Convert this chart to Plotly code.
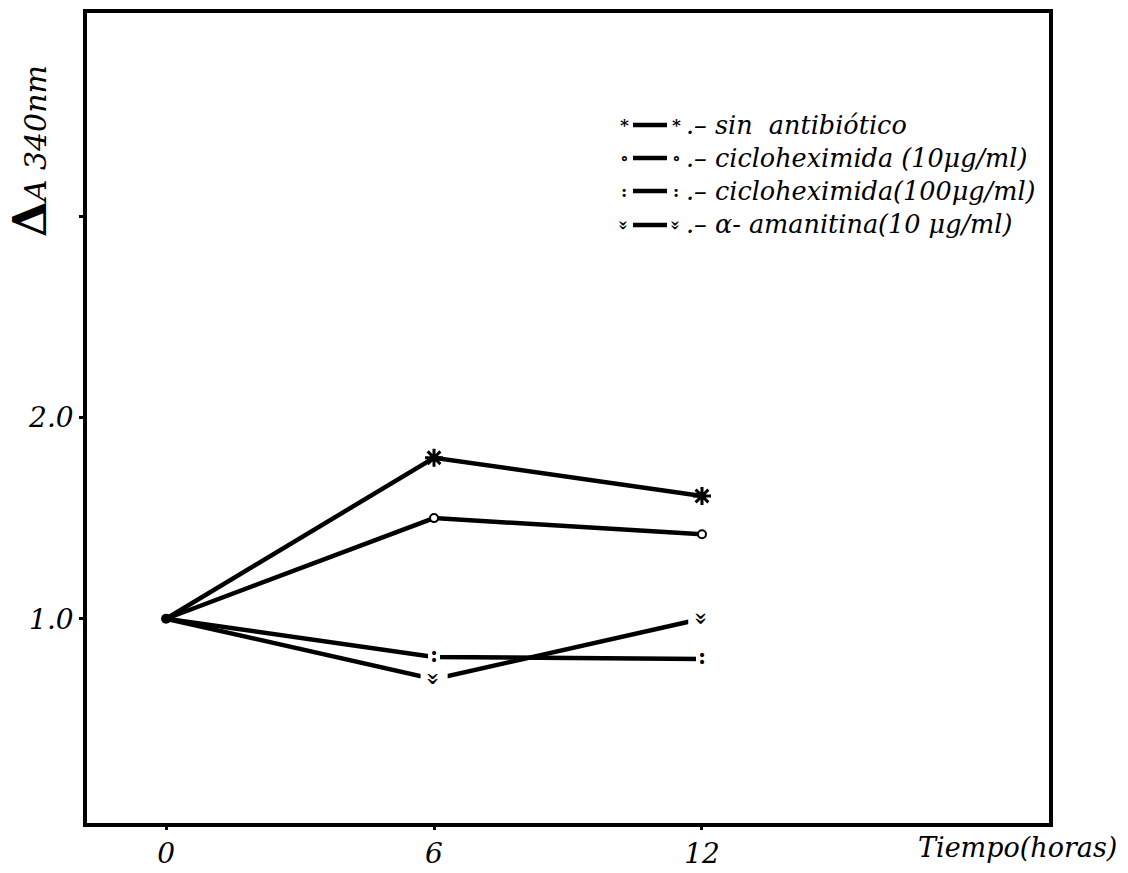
import plotly.graph_objects as go

# Tiempo (horas) y variación de absorbancia a 340 nm
horas = [0, 6, 12]
sin_antibiotico = [1.00, 1.80, 1.61]
cicloheximida_10 = [1.00, 1.50, 1.42]
cicloheximida_100 = [1.00, 0.81, 0.80]
amanitina_10 = [1.00, 0.70, 1.00]

x_ticks = [0, 6, 12]
x_ticktext = ["0", "6", "12"]
y_ticks = [1, 2, 3]
y_ticktext = ["1.0", "2.0", ""]

leyenda = [
    "sin  antibiótico",
    "cicloheximida (10μg/ml)",
    "cicloheximida(100μg/ml)",
    "α- amanitina(10 μg/ml)",
]

SERIF = "DejaVu Serif"
INK = "black"
LW = 4.5

fig = go.Figure()

series = [sin_antibiotico, cicloheximida_10, cicloheximida_100, amanitina_10]
for ys in series:
    fig.add_trace(go.Scatter(x=horas, y=ys, mode="lines",
                             line=dict(color=INK, width=LW),
                             showlegend=False, hoverinfo="skip"))

# common starting point
fig.add_trace(go.Scatter(x=horas[:1], y=[sin_antibiotico[0]], mode="markers",
                         marker=dict(color=INK, size=10), showlegend=False))

# point glyphs at 6 and 12 h
fig.add_trace(go.Scatter(x=horas[1:], y=sin_antibiotico[1:], mode="markers",
                         marker=dict(symbol="asterisk-open", size=15, color=INK,
                                     line=dict(color=INK, width=3)),
                         showlegend=False))
fig.add_trace(go.Scatter(x=horas[1:], y=cicloheximida_10[1:], mode="markers",
                         marker=dict(symbol="circle", size=8, color="white",
                                     line=dict(color=INK, width=2)),
                         showlegend=False))
fig.add_trace(go.Scatter(x=horas[1:], y=cicloheximida_100[1:], mode="markers",
                         marker=dict(symbol="square", size=12, color="white",
                                     line=dict(width=0)),
                         showlegend=False))
fig.add_trace(go.Scatter(x=horas[1:], y=cicloheximida_100[1:], mode="text",
                         text=["<b>:</b>", "<b>:</b>"], textposition="middle center",
                         textfont=dict(family=SERIF, size=22, color=INK),
                         showlegend=False))

annotations = []
for xv, yv in zip(horas[1:], amanitina_10[1:]):
    annotations.append(dict(x=xv, y=yv, xref="x", yref="y", text="<b>»</b>",
                            textangle=90, showarrow=False, bgcolor="white",
                            borderpad=0,
                            font=dict(family=SERIF, size=22, color=INK)))

# axis titles
annotations.append(dict(x=-0.06, y=0.83, xref="paper", yref="paper", showarrow=False,
                        textangle=-90, xanchor="center", yanchor="middle",
                        text="<b><span style='font-size:46px'>Δ</span></b><i>A 340nm</i>",
                        font=dict(family=SERIF, size=30, color=INK)))
annotations.append(dict(x=1.073, y=-0.03, xref="paper", yref="paper", showarrow=False,
                        xanchor="right", yanchor="middle",
                        text="<i>Tiempo(horas)</i>",
                        font=dict(family=SERIF, size=27, color=INK)))

# legend drawn in the upper right
def px_x(p):
    return (p - 87) / 962

def px_y(p):
    return (823 - p) / 810

row_y = [125, 158, 191, 225]
glyphs = ["<b>*</b>", "<b>∘</b>", "<b>:</b>", "<b>»</b>"]
shapes = []
for ry, g in zip(row_y, glyphs):
    shapes.append(dict(type="line", xref="paper", yref="paper",
                       x0=px_x(633), x1=px_x(667), y0=px_y(ry), y1=px_y(ry),
                       line=dict(color=INK, width=LW)))
    for gx in (624, 676):
        angle = 90 if "»" in g else 0
        annotations.append(dict(x=px_x(gx), y=px_y(ry), xref="paper", yref="paper",
                                text=g, textangle=angle, showarrow=False,
                                xanchor="center", yanchor="middle",
                                font=dict(family=SERIF, size=17, color=INK)))
annotations.append(dict(x=px_x(684), y=px_y((row_y[0] + row_y[-1]) / 2),
                        xref="paper", yref="paper",
                        text="<br>".join("<i>.– " + t + "</i>" for t in leyenda),
                        showarrow=False, align="left",
                        xanchor="left", yanchor="middle",
                        font=dict(family=SERIF, size=25.5, color=INK)))

for a in annotations:
    fig.add_annotation(**a)

fig.update_layout(
    width=1128, height=873,
    margin=dict(l=87, r=79, t=13, b=50),
    paper_bgcolor="white", plot_bgcolor="white",
    shapes=shapes,
    showlegend=False,
    font=dict(family=SERIF, color=INK),
)
fig.update_xaxes(range=[-1.77, 19.77], tickvals=x_ticks, ticktext=x_ticktext,
                 ticks="outside", ticklen=3, tickwidth=3, tickcolor=INK,
                 tickfont=dict(family=SERIF, size=28, color=INK, style="italic"),
                 automargin=False,
                 showgrid=False, zeroline=False, showline=True, mirror=True,
                 linecolor=INK, linewidth=3.5)
fig.update_yaxes(range=[-0.015, 4.01], tickvals=y_ticks, ticktext=y_ticktext,
                 ticks="outside", ticklen=4, tickwidth=3, tickcolor=INK,
                 tickfont=dict(family=SERIF, size=28, color=INK, style="italic"),
                 automargin=False,
                 showgrid=False, zeroline=False, showline=True, mirror=True,
                 linecolor=INK, linewidth=3.5)

fig.write_html("out.html")
